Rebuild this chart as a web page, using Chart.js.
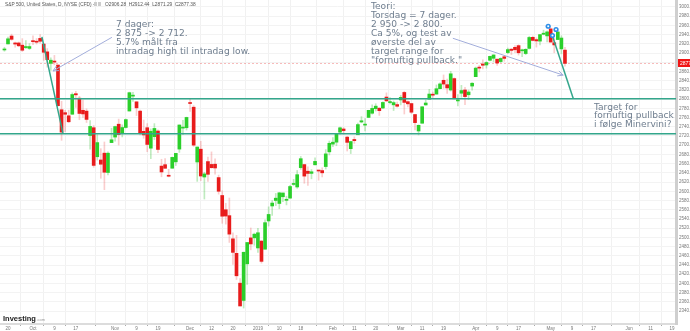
<!DOCTYPE html>
<html>
<head>
<meta charset="utf-8">
<title>S&amp;P 500 CFD daily</title>
<script src="https://cdn.jsdelivr.net/npm/chart.js@4.4.1/dist/chart.umd.min.js"></script>
<style>
  html, body { margin: 0; padding: 0; background: #fff; }
  #wrap { position: relative; width: 690px; height: 331px; }
</style>
</head>
<body>
<div id="wrap"><canvas id="chart" width="690" height="331"></canvas></div>
<script>
// S&P 500 (CFD), daily candles, 19 Sep 2018 -> 7 May 2019

// market holidays, used to build the trading-day axis
const holidays = ['2018-11-22', '2018-12-05', '2018-12-25', '2019-01-01', '2019-01-21', '2019-02-18', '2019-04-19', '2019-05-27'];

const opens = [
  2906.6, 2919.7, 2936.8, 2921.8, 2921.8, 2917.0, 2911.7, 2910.0, 2926.3, 2923.8,
  2931.7, 2919.4, 2902.5, 2877.5, 2882.5, 2873.9, 2776.9, 2770.5, 2763.8, 2767.1,
  2811.7, 2802.0, 2775.7, 2773.9, 2721.0, 2737.9, 2674.9, 2667.9, 2682.7, 2640.7,
  2705.6, 2717.6, 2745.5, 2726.4, 2738.4, 2774.1, 2806.4, 2794.1, 2773.9, 2730.1,
  2737.9, 2693.5, 2718.5, 2730.7, 2654.6, 2657.7, 2633.4, 2650.0, 2663.8, 2691.5,
  2737.0, 2737.8, 2790.5, 2782.4, 2663.5, 2691.3, 2630.9, 2664.4, 2658.2, 2658.7,
  2629.7, 2590.8, 2559.9, 2547.1, 2496.8, 2465.4, 2400.6, 2363.1, 2442.5, 2498.8,
  2498.9, 2477.0, 2491.9, 2474.3, 2535.6, 2568.1, 2580.0, 2573.5, 2588.1, 2580.3,
  2585.1, 2614.8, 2609.3, 2651.3, 2657.9, 2643.5, 2638.8, 2657.4, 2645.0, 2644.9,
  2653.6, 2685.5, 2702.3, 2706.5, 2728.3, 2735.1, 2717.5, 2692.4, 2712.4, 2722.6,
  2750.3, 2743.5, 2760.2, 2769.3, 2779.1, 2780.2, 2780.7, 2804.4, 2792.4, 2787.5,
  2788.1, 2798.2, 2814.4, 2794.4, 2790.3, 2766.5, 2730.8, 2747.6, 2787.3, 2799.8,
  2810.4, 2810.8, 2822.6, 2840.8, 2831.3, 2819.7, 2844.5, 2796.0, 2812.7, 2819.7,
  2809.4, 2828.3, 2848.6, 2868.2, 2876.1, 2874.0, 2884.2, 2888.5, 2886.6, 2881.4,
  2891.9, 2900.9, 2908.3, 2912.3, 2916.0, 2904.8, 2898.8, 2910.0, 2934.0, 2929.0,
  2925.8, 2940.6, 2937.1, 2952.3, 2922.2, 2929.2, 2908.9, 2906.3
];
const highs = [
  2912.4, 2934.8, 2940.9, 2923.8, 2923.9, 2931.2, 2927.2, 2920.5, 2937.1, 2931.4,
  2939.9, 2919.8, 2909.6, 2889.5, 2894.8, 2874.0, 2795.1, 2775.8, 2776.0, 2813.5,
  2816.9, 2806.0, 2797.8, 2778.9, 2753.6, 2742.6, 2722.7, 2692.4, 2706.9, 2685.4,
  2736.7, 2741.7, 2756.6, 2744.3, 2756.8, 2815.2, 2814.8, 2794.1, 2776.0, 2754.6,
  2746.8, 2735.4, 2746.8, 2733.2, 2669.4, 2670.7, 2647.6, 2674.4, 2682.5, 2744.0,
  2753.8, 2760.9, 2800.2, 2785.9, 2696.2, 2708.5, 2641.3, 2674.4, 2685.4, 2670.2,
  2635.1, 2601.1, 2574.0, 2585.3, 2509.6, 2504.4, 2410.3, 2467.8, 2489.1, 2520.3,
  2509.2, 2519.5, 2493.1, 2538.1, 2566.2, 2579.8, 2595.3, 2597.8, 2596.3, 2589.3,
  2613.1, 2625.8, 2645.1, 2675.5, 2657.9, 2653.2, 2647.2, 2672.4, 2645.0, 2650.9,
  2690.4, 2709.0, 2716.7, 2725.0, 2739.0, 2738.1, 2719.3, 2708.1, 2718.1, 2748.2,
  2761.9, 2757.9, 2775.7, 2787.3, 2789.9, 2781.6, 2794.2, 2813.5, 2803.1, 2795.8,
  2793.7, 2808.0, 2816.9, 2796.4, 2790.3, 2766.5, 2744.1, 2784.0, 2798.3, 2821.2,
  2815.0, 2830.7, 2835.4, 2852.4, 2843.5, 2860.3, 2846.2, 2809.8, 2829.9, 2825.6,
  2819.7, 2836.0, 2869.4, 2872.9, 2885.3, 2881.3, 2893.2, 2896.0, 2886.9, 2889.7,
  2893.4, 2910.5, 2909.6, 2916.1, 2918.0, 2908.4, 2909.5, 2936.3, 2936.8, 2933.1,
  2939.9, 2949.5, 2948.2, 2954.1, 2931.7, 2947.9, 2937.3, 2912.4
];
const lows = [
  2903.8, 2919.7, 2927.5, 2912.6, 2913.7, 2903.3, 2909.3, 2907.5, 2917.9, 2919.4,
  2921.4, 2883.9, 2869.3, 2862.1, 2874.3, 2784.9, 2710.5, 2729.4, 2749.0, 2766.9,
  2781.8, 2755.2, 2760.3, 2749.2, 2691.4, 2651.9, 2667.8, 2628.2, 2603.5, 2635.3,
  2705.6, 2708.9, 2700.4, 2717.9, 2737.1, 2774.1, 2795.0, 2764.2, 2722.0, 2715.0,
  2685.8, 2670.8, 2712.2, 2684.0, 2631.5, 2649.8, 2631.1, 2650.0, 2655.9, 2684.4,
  2722.9, 2732.8, 2773.4, 2697.2, 2621.5, 2623.1, 2583.2, 2621.3, 2650.3, 2637.3,
  2593.8, 2530.5, 2528.7, 2489.0, 2441.5, 2408.6, 2351.1, 2346.6, 2397.9, 2472.9,
  2482.8, 2467.5, 2444.0, 2474.3, 2524.6, 2547.6, 2568.9, 2562.0, 2577.4, 2570.4,
  2585.1, 2612.7, 2606.4, 2647.6, 2617.3, 2612.9, 2627.0, 2657.3, 2624.1, 2631.1,
  2648.3, 2678.7, 2696.9, 2698.8, 2724.0, 2724.2, 2687.3, 2681.8, 2703.8, 2722.6,
  2748.6, 2731.2, 2760.2, 2767.3, 2774.1, 2764.6, 2779.1, 2795.0, 2789.5, 2775.1,
  2782.5, 2787.4, 2767.7, 2783.0, 2768.7, 2732.9, 2722.3, 2747.6, 2786.7, 2799.8,
  2803.5, 2810.8, 2822.0, 2823.3, 2812.4, 2817.4, 2800.5, 2785.0, 2804.0, 2787.7,
  2798.8, 2819.2, 2848.6, 2858.8, 2865.2, 2867.1, 2883.0, 2880.8, 2873.3, 2879.1,
  2882.0, 2898.4, 2896.5, 2900.7, 2895.5, 2891.9, 2896.4, 2908.5, 2926.1, 2912.8,
  2917.6, 2939.4, 2924.1, 2923.4, 2900.5, 2929.2, 2898.2, 2871.3
];
const closes = [
  2908.0, 2930.8, 2929.7, 2919.4, 2915.6, 2906.0, 2914.0, 2914.0, 2924.6, 2923.4,
  2925.5, 2901.6, 2885.6, 2884.4, 2880.3, 2785.7, 2728.4, 2767.1, 2750.8, 2809.9,
  2809.2, 2768.8, 2767.8, 2755.9, 2740.7, 2656.1, 2705.6, 2658.7, 2641.3, 2682.6,
  2711.7, 2740.4, 2723.1, 2738.3, 2755.5, 2813.9, 2806.8, 2781.0, 2726.2, 2722.2,
  2701.6, 2730.2, 2736.3, 2690.7, 2641.9, 2649.9, 2632.6, 2673.5, 2682.2, 2743.8,
  2737.8, 2760.2, 2790.4, 2700.1, 2696.0, 2633.1, 2637.7, 2636.8, 2651.1, 2650.5,
  2600.0, 2545.9, 2546.2, 2507.0, 2467.4, 2416.6, 2351.1, 2467.7, 2488.8, 2485.7,
  2506.9, 2510.0, 2447.9, 2531.9, 2549.7, 2574.4, 2585.0, 2596.6, 2596.3, 2582.6,
  2610.3, 2616.1, 2636.0, 2670.7, 2632.9, 2638.7, 2642.3, 2664.8, 2643.9, 2640.0,
  2681.1, 2704.1, 2706.5, 2724.9, 2737.7, 2731.6, 2706.1, 2707.9, 2709.8, 2744.7,
  2753.0, 2745.7, 2775.6, 2779.8, 2784.7, 2774.9, 2792.7, 2796.1, 2793.9, 2792.4,
  2784.5, 2803.7, 2792.8, 2789.7, 2771.5, 2748.9, 2743.1, 2783.3, 2791.5, 2810.9,
  2808.5, 2822.5, 2832.9, 2832.6, 2824.2, 2854.9, 2800.7, 2798.4, 2818.5, 2805.4,
  2815.4, 2834.4, 2867.2, 2867.2, 2873.4, 2879.4, 2892.7, 2895.8, 2878.2, 2888.2,
  2888.3, 2907.4, 2905.6, 2907.1, 2900.5, 2905.0, 2908.0, 2933.7, 2927.3, 2926.2,
  2939.9, 2943.0, 2945.8, 2923.7, 2917.5, 2945.6, 2932.5, 2877.38
];

// bottom axis labels
const tickDates = [
  '2018-09-20', '2018-10-01', '2018-10-09', '2018-10-17', '2018-11-01', '2018-11-09', '2018-11-19',
  '2018-12-03', '2018-12-12', '2018-12-20', '2019-01-02', '2019-01-10', '2019-01-18', '2019-02-01',
  '2019-02-11', '2019-02-20', '2019-03-01', '2019-03-11', '2019-03-19', '2019-04-01', '2019-04-09',
  '2019-04-17', '2019-05-01', '2019-05-09', '2019-05-17', '2019-06-03', '2019-06-11', '2019-06-19'
];
const tickLabels = [
  '20', 'Oct', '9', '17', 'Nov', '9', '19', 'Dec', '12', '20', '2019', '10', '18', 'Feb',
  '11', '20', 'Mar', '11', '19', 'Apr', '9', '17', 'May', '9', '17', 'Jun', '11', '19'
];

// drawings on the chart, in (trading day, price)
const targetLevels = [2801, 2725];
const trendLines = [
  [10.5, 2935, 16.4, 2725],
  [153.4, 2939, 159.3, 2802]
];
const arrows = [
  [30.1, 2934, 13.6, 2861],
  [125.6, 2932, 156.5, 2852]
];
const handles = [[152.3, 2958], [154.5, 2951], [153.5, 2938]];

const noteLeft = ['7 dager:', '2 875 -> 2 712.', '5.7% målt fra', 'intradag high til intradag low.'];
const noteTop = ['Teori:', 'Torsdag = 7 dager.', '2 950 -> 2 800.', 'Ca 5%, og test av', 'øverste del av', 'target range for', '"fornuftig pullback."'];
const noteRight = ['Target for', 'fornuftig pullback', 'i følge Minervini?'];

const headerName = 'S&P 500, United States, D, NYSE (CFD) -';
const headerValues = 'O2906.28  H2912.44  L2871.29  C2877.38';

// build the trading calendar (weekdays minus holidays)
function tradingDays(from, to) {
    const out = [];
    const d = new Date(from + 'T12:00:00Z');
    const end = new Date(to + 'T12:00:00Z');
    while (d <= end) {
        const wd = d.getUTCDay();
        const s = d.toISOString().slice(0, 10);
        if (wd !== 0 && wd !== 6 && !holidays.includes(s)) out.push(s);
        d.setUTCDate(d.getUTCDate() + 1);
    }
    return out;
}
const days = tradingDays('2018-09-19', '2019-06-28');
const tickIdx = tickDates.map(d => days.indexOf(d));

const UP = '#2bcf2b';
const DOWN = '#e81c1c';
const isUp = opens.map((o, i) => closes[i] >= o);

const bodies = opens.map((o, i) => ({ x: i, y: [o, closes[i]] }));
const wicks = opens.map((o, i) => ({ x: i, y: [lows[i], highs[i]] }));

const TEAL = '#33a68b';
const NOTE = '#6f7e8f';

const overlay = {
    id: 'overlay',
    afterDatasetsDraw(chart) {
        const { ctx, chartArea: a, scales: { x, y } } = chart;
        const X = v => x.getPixelForValue(v);
        const Y = v => y.getPixelForValue(v);

        ctx.save();
        ctx.beginPath();
        ctx.rect(a.left, a.top, a.right - a.left, a.bottom - a.top);
        ctx.clip();

        // last price line
        const last = closes[closes.length - 1];
        ctx.strokeStyle = 'rgba(232,60,60,0.35)';
        ctx.lineWidth = 1;
        ctx.setLineDash([2, 2]);
        ctx.beginPath();
        ctx.moveTo(a.left, Math.round(Y(last)) + 0.5);
        ctx.lineTo(a.right, Math.round(Y(last)) + 0.5);
        ctx.stroke();
        ctx.setLineDash([]);

        // target range
        ctx.strokeStyle = TEAL;
        ctx.lineWidth = 1.5;
        targetLevels.forEach(p => {
            ctx.beginPath();
            ctx.moveTo(a.left, Y(p));
            ctx.lineTo(a.right, Y(p));
            ctx.stroke();
        });

        // trend lines
        trendLines.forEach(([i1, p1, i2, p2]) => {
            ctx.beginPath();
            ctx.moveTo(X(i1), Y(p1));
            ctx.lineTo(X(i2), Y(p2));
            ctx.stroke();
        });

        // arrows
        ctx.strokeStyle = '#a3aedb';
        ctx.lineWidth = 1;
        arrows.forEach(([i1, p1, i2, p2]) => {
            const x1 = X(i1), y1 = Y(p1), x2 = X(i2), y2 = Y(p2);
            const ang = Math.atan2(y2 - y1, x2 - x1);
            ctx.beginPath();
            ctx.moveTo(x1, y1);
            ctx.lineTo(x2, y2);
            ctx.moveTo(x2 - 6 * Math.cos(ang - 0.45), y2 - 6 * Math.sin(ang - 0.45));
            ctx.lineTo(x2, y2);
            ctx.lineTo(x2 - 6 * Math.cos(ang + 0.45), y2 - 6 * Math.sin(ang + 0.45));
            ctx.stroke();
        });

        // selected drawing handles
        handles.forEach(([i, p]) => {
            ctx.fillStyle = '#2f8fe8';
            ctx.beginPath();
            ctx.arc(X(i), Y(p), 2.6, 0, Math.PI * 2);
            ctx.fill();
            ctx.fillStyle = '#fff';
            ctx.beginPath();
            ctx.arc(X(i), Y(p), 1, 0, Math.PI * 2);
            ctx.fill();
        });
        ctx.restore();

        // price label on the axis
        ctx.save();
        const ly = Math.round(Y(last));
        ctx.fillStyle = '#f01414';
        ctx.fillRect(a.right + 2, ly - 4, 40, 8);
        ctx.fillStyle = '#fff';
        ctx.font = '5px "Liberation Sans", Arial, sans-serif';
        ctx.textBaseline = 'middle';
        ctx.fillText(last.toFixed(2), a.right + 4, ly + 0.5);

        // notes
        ctx.fillStyle = NOTE;
        ctx.font = '9.1px "DejaVu Sans", Verdana, sans-serif';
        ctx.textBaseline = 'alphabetic';
        noteLeft.forEach((t, k) => ctx.fillText(t, 116, 27 + k * 9));
        noteTop.forEach((t, k) => ctx.fillText(t, 371, 9 + k * 9));
        noteRight.forEach((t, k) => ctx.fillText(t, 594, 109.5 + k * 8.8));

        // header
        ctx.font = '4.8px "Liberation Sans", Arial, sans-serif';
        ctx.fillStyle = '#555';
        ctx.fillText(headerName, 5, 6);
        ctx.fillStyle = '#ccc';
        ctx.fillRect(94, 2, 3, 4);
        ctx.fillRect(98, 2, 3, 4);
        ctx.fillStyle = '#555';
        ctx.fillText(headerValues, 105, 6);

        // logo
        ctx.fillStyle = '#222';
        ctx.font = 'bold 7.5px "Liberation Sans", Arial, sans-serif';
        ctx.fillText('Investing', 3, 321);
        const w = ctx.measureText('Investing').width;
        ctx.fillStyle = '#999';
        ctx.font = '4px "Liberation Sans", Arial, sans-serif';
        ctx.fillText('.com', 3 + w + 0.5, 321);
        ctx.restore();
    }
};

const ctx = document.getElementById('chart').getContext('2d');
new Chart(ctx, {
    type: 'bar',
    data: {
        datasets: [
            {
                label: 'body',
                data: bodies,
                backgroundColor: isUp.map(u => u ? UP : DOWN),
                barThickness: 3,
                minBarLength: 1,
                order: 0
            },
            {
                label: 'wick',
                data: wicks,
                backgroundColor: isUp.map(u => u ? 'rgba(43,190,43,0.3)' : 'rgba(232,28,28,0.22)'),
                barThickness: 1,
                order: 1
            }
        ]
    },
    options: {
        responsive: false,
        devicePixelRatio: 1,
        animation: false,
        layout: { padding: 0 },
        datasets: { bar: { grouped: false } },
        plugins: {
            legend: { display: false },
            tooltip: { enabled: false },
            title: { display: false }
        },
        scales: {
            x: {
                type: 'linear',
                min: -1.24,
                max: 188.1,
                offset: false,
                afterBuildTicks: s => { s.ticks = tickIdx.map(v => ({ value: v })); },
                afterFit: s => { s.height = 7; s.paddingLeft = 0; s.paddingRight = 0; },
                ticks: {
                    autoSkip: false,
                    maxRotation: 0,
                    padding: 0,
                    color: '#777',
                    font: { size: 4.5, family: '"Liberation Sans", Arial, sans-serif' },
                    callback: v => tickLabels[tickIdx.indexOf(v)] || ''
                },
                grid: { color: '#f1f1f1', tickLength: 2, tickColor: '#aaa' },
                border: { color: '#dcdcdc', width: 2 }
            },
            y: {
                position: 'right',
                min: 2312,
                max: 3015,
                afterBuildTicks: s => { s.ticks = s.ticks.filter(t => t.value % 20 === 0); },
                afterFit: s => { s.width = 14; s.paddingTop = 0; s.paddingBottom = 0; },
                ticks: {
                    stepSize: 20,
                    padding: 1,
                    color: '#777',
                    font: { size: 4.5, family: '"Liberation Sans", Arial, sans-serif' },
                    callback: v => v.toFixed(2)
                },
                grid: { color: '#f3f3f3', tickLength: 2, tickColor: '#888' },
                border: { color: '#cfcfcf', width: 3 }
            }
        }
    },
    plugins: [overlay]
});
</script>
</body>
</html>
